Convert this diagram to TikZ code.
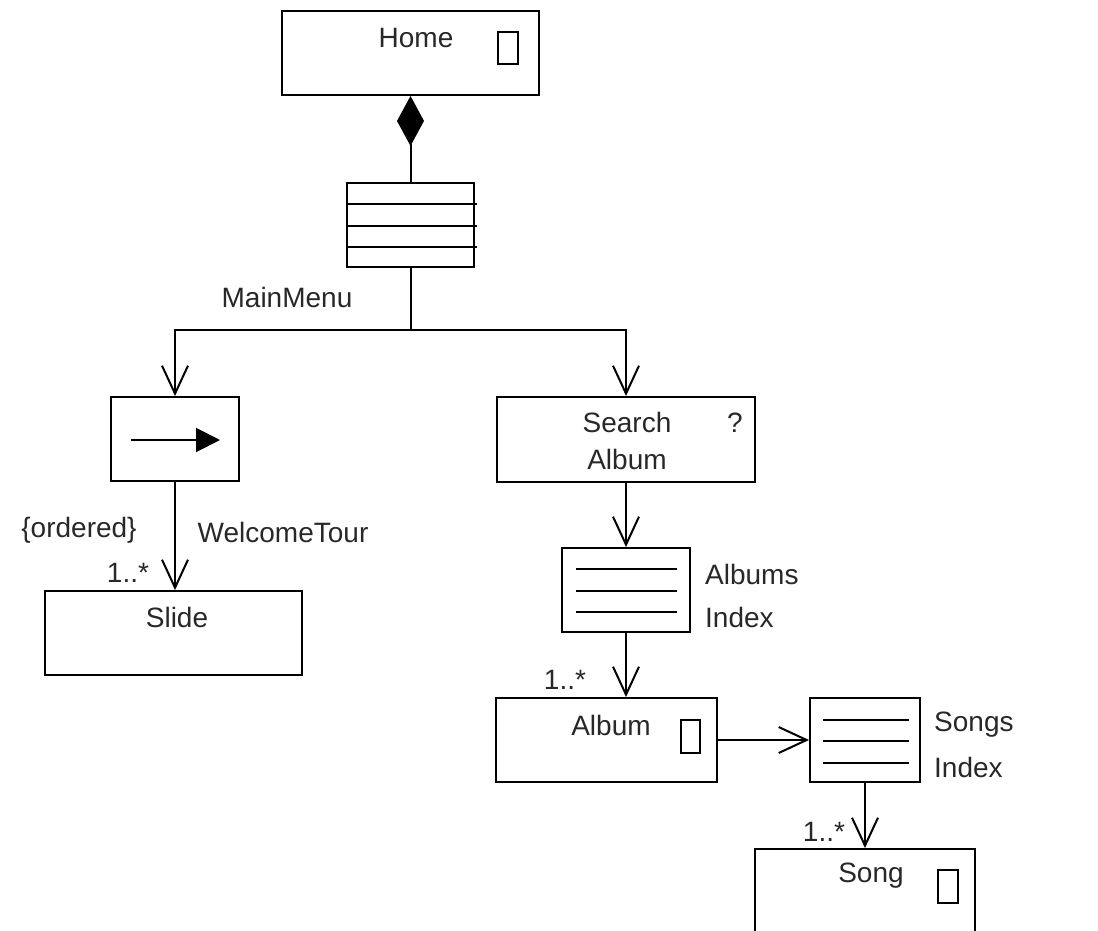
\documentclass[tikz,border=0pt]{standalone}
\usepackage{fontspec}
\setmainfont{Liberation Sans}
\usetikzlibrary{arrows.meta}
\definecolor{ink}{RGB}{40,40,40}
\tikzset{
  every picture/.style={x=1pt,y=-1pt},
  box/.style={draw=black,line width=1.9pt,fill=white,minimum width=#1,inner sep=0pt,minimum height=84pt},
  icon/.style={draw=black,line width=1.7pt,inner sep=0pt,minimum width=20pt,minimum height=32pt},
  txt/.style={text=ink,font=\fontsize{28}{37}\selectfont,inner sep=0pt},
  link/.style={draw=black,line width=2pt},
  openarrow/.style={link,-{Straight Barb[length=28pt,width=26pt]}},
  rule/.style={draw=black,line width=1.7pt}
}
\begin{document}
\begin{tikzpicture}
\useasboundingbox (0,0) rectangle (1098,931);
\clip (0,0) rectangle (1098,931);

% home page class
\node[box=257pt] (home) at (410.5,53) {};
\node[txt] (homename) at (416,38) {Home};
\node[icon] (homeicon) at (508,48) {};

% main menu (menu symbol)
\node[box=127pt] (menu) at (410.5,225) {};
\draw[rule] (347,204) -- (477,204);
\draw[rule] (347,226) -- (477,226);
\draw[rule] (347,247) -- (477,247);
\node[txt] (menuname) at (287,297) {MainMenu};

% composition of the menu in the home page
\draw[link,-{Diamond[length=50pt,width=27pt]}] (menu.north) -- (home.south);

% guided tour
\node[box=128pt] (welcome) at (175,439) {};
\coordinate (tourstart) at (131,440);
\coordinate (tourend) at (220,440);
\draw[link,-{Triangle[length=24pt,width=24pt]}] (tourstart) -- (tourend);

\node[box=257pt] (slide) at (173.5,633) {};
\node[txt] (slidename) at (177,617) {Slide};

% search
\node[box=258pt,minimum height=85pt] (search) at (626,439.5) {};
\node[txt,align=center] (searchname) at (627,441) {Search\\Album};
\node[txt] (searchmark) at (735,423) {?};

% albums index
\node[box=128pt] (albumsidx) at (626,590) {};
\draw[rule] (576,569) -- (677,569);
\draw[rule] (576,591) -- (677,591);
\draw[rule] (576,612) -- (677,612);
\node[txt,anchor=west] (albumslbl1) at (705,574) {Albums};
\node[txt,anchor=west] (albumslbl2) at (705,617) {Index};

% album
\node[box=221pt] (album) at (606.5,740) {};
\node[txt] (albumname) at (611,725) {Album};
\node[icon,minimum width=19pt,minimum height=33pt] (albumicon) at (690.5,736.5) {};

% songs index
\node[box=110pt] (songsidx) at (865,740) {};
\draw[rule] (823,720) -- (909,720);
\draw[rule] (823,741) -- (909,741);
\draw[rule] (823,763) -- (909,763);
\node[txt,anchor=west] (songslbl1) at (934,725) {Songs};
\node[txt,anchor=west] (songslbl2) at (934,767) {Index};

% song (open at the lower edge)
\node[box=220pt,minimum height=100pt] (song) at (865,899) {};
\node[txt] (songname) at (871,876) {Song};
\node[icon,minimum height=33pt] (songicon) at (948,886.5) {};

% menu links
\coordinate (split) at (410.5,330);
\draw[link] (menu.south) -- (split);
\draw[openarrow] (split) -| (welcome.north);
\draw[openarrow] (split) -| (search.north);

% navigation links
\draw[openarrow] (welcome.south) -- (welcome.south |- slide.north);
\node[txt] (ordered) at (79,530) {\{ordered\}};
\node[txt] (tourname) at (283,532) {WelcomeTour};
\node[txt] (mult1) at (128,573) {1..*};

\draw[openarrow] (search.south) -- (albumsidx.north);
\draw[openarrow] (albumsidx.south) -- (albumsidx.south |- album.north);
\node[txt] (mult2) at (565,680) {1..*};

\draw[openarrow] (album.east) -- (songsidx.west);
\draw[openarrow] (songsidx.south) -- (song.north);
\node[txt] (mult3) at (824,832) {1..*};
\end{tikzpicture}
\end{document}
